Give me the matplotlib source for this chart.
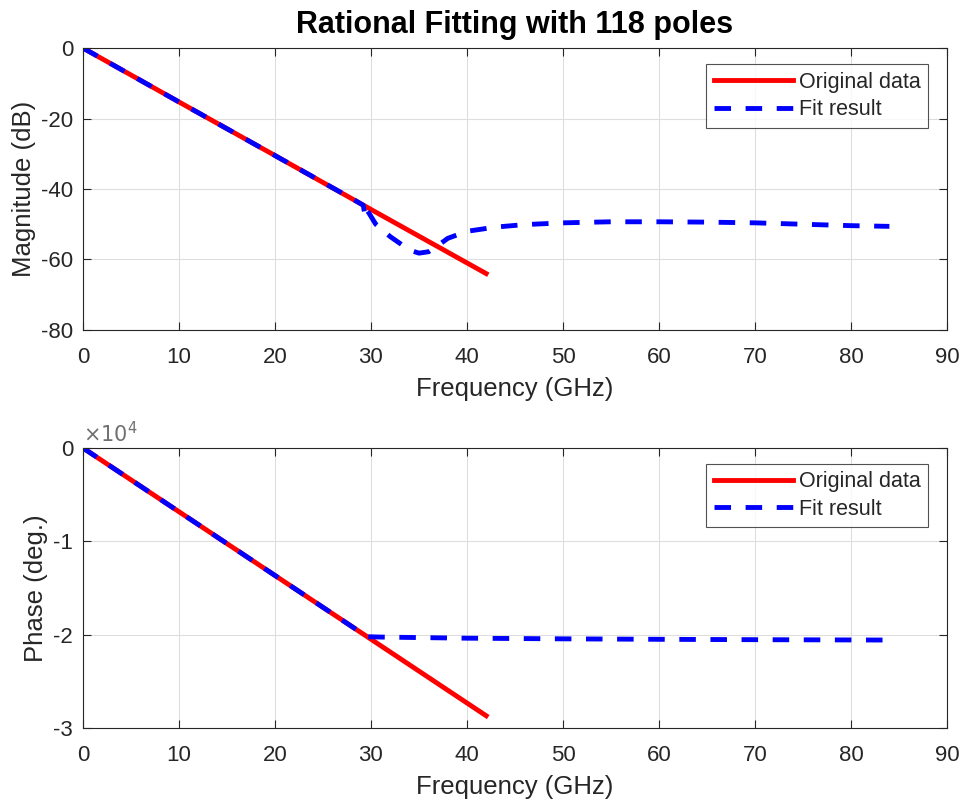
import matplotlib
matplotlib.use("Agg")
import matplotlib.pyplot as plt

plt.rcParams['font.family'] = ['Liberation Sans', 'DejaVu Sans']
plt.rcParams['axes.unicode_minus'] = False

# ---- data ----
orig_freq = [0, 10, 20, 30, 42]
orig_mag = [0, -15.3, -30.5, -45.8, -64.0]
orig_phase = [0, -6830, -13660, -20490, -28690]

fit_freq_mag = [0, 10, 20, 28, 29.2, 29.4, 29.6, 30.5, 32, 34, 35, 36, 37, 38,
                40, 43, 46, 50, 55, 60, 65, 70, 75, 80, 84]
fit_mag = [0, -15.3, -30.5, -42.7, -44.6, -48.0, -46.0, -50.0, -53.5, -57.3,
           -58.2, -57.8, -56.0, -54.0, -52.0, -50.8, -50.1, -49.6, -49.3,
           -49.3, -49.4, -49.6, -50.0, -50.4, -50.6]

fit_freq_ph = [0, 10, 20, 29.6, 31, 40, 50, 60, 70, 84]
fit_phase = [0, -6830, -13660, -20220, -20260, -20380, -20450, -20500,
             -20540, -20580]

title = "Rational Fitting with 118 poles"
xticks = [0, 10, 20, 30, 40, 50, 60, 70, 80, 90]
mag_ticks = [-80, -60, -40, -20, 0]
ph_ticks = [-30000, -20000, -10000, 0]
ph_tick_labels = ['-3', '-2', '-1', '0']
ph_exponent = r'$\times10^{4}$'

txt = '#262626'
tick_fs = 16
label_fs = 18.5
leg_fs = 15.5

fig = plt.figure(figsize=(9.67, 8.06), dpi=100)
ax1 = fig.add_axes([0.0858, 0.5906, 0.8935, 0.3498])
ax2 = fig.add_axes([0.0858, 0.0968, 0.8935, 0.3474])

dash = (3.4, 3.0)
lw = 3.5
for ax in (ax1, ax2):
    ax.set_xlim(0, 90)
    ax.set_xticks(xticks)
    ax.grid(True, color='#dedede', linewidth=0.8)
    ax.set_axisbelow(True)
    ax.tick_params(direction='in', top=True, right=True, labelsize=tick_fs,
                   colors=txt, length=6, width=0.8)
    ax.tick_params(axis='x', pad=12)
    ax.tick_params(axis='y', pad=7)
    for s in ax.spines.values():
        s.set_color(txt)
        s.set_linewidth(0.8)
    ax.set_xlabel('Frequency (GHz)', fontsize=label_fs, color=txt, labelpad=7)

ax1.plot(orig_freq, orig_mag, color='#ff0000', lw=lw, label='Original data')
ax1.plot(fit_freq_mag, fit_mag, color='#0000ff', lw=lw, dashes=dash,
         label='Fit result')
ax1.set_ylim(-80, 0)
ax1.set_yticks(mag_ticks)
ax1.set_ylabel('Magnitude (dB)', fontsize=label_fs, color=txt, labelpad=4)
ax1.set_title(title, fontsize=22, fontweight='bold', color='#000000', pad=11)

ax2.plot(orig_freq, orig_phase, color='#ff0000', lw=lw, label='Original data')
ax2.plot(fit_freq_ph, fit_phase, color='#0000ff', lw=lw, dashes=dash,
         label='Fit result')
ax2.set_ylim(-30000, 0)
ax2.set_yticks(ph_ticks)
ax2.set_yticklabels(ph_tick_labels)
ax2.text(0.0, 1.008, ph_exponent, transform=ax2.transAxes, fontsize=15,
         color='#707070', ha='left', va='bottom')
ax2.set_ylabel('Phase (deg.)', fontsize=label_fs, color=txt, labelpad=4)

for ax in (ax1, ax2):
    leg = ax.legend(loc='upper right', bbox_to_anchor=(0.978, 0.943),
                    fontsize=leg_fs, frameon=True, fancybox=False,
                    handlelength=3.7, handletextpad=0.25, borderpad=0.35,
                    labelspacing=0.3, borderaxespad=0)
    leg.get_frame().set_edgecolor(txt)
    leg.get_frame().set_linewidth(0.8)
    for t in leg.get_texts():
        t.set_color(txt)

fig.savefig('out.png', dpi=100, facecolor='white')
